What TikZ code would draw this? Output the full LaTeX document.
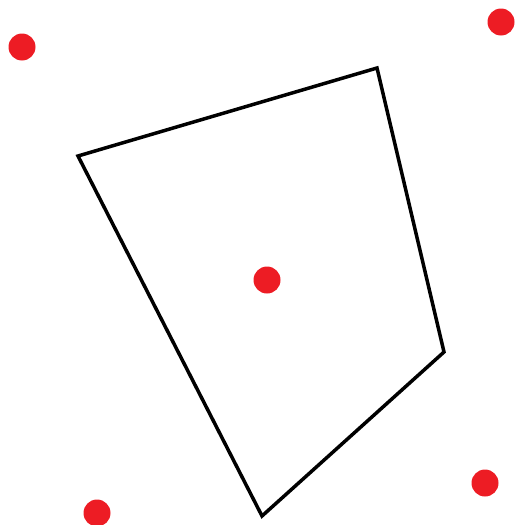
\documentclass[tikz,border=0pt]{standalone}
\definecolor{dotred}{RGB}{237,28,36}
\tikzset{
	site/.style = {circle, fill = dotred, inner sep = 0pt, minimum size = 27pt},
	cell/.style = {line width = 3.5pt, line join = miter, black}
}
\begin{document}
\begin{tikzpicture}[x = 1pt, y = -1pt]
	\useasboundingbox (0,0) rectangle (517,525);
	\node [site] (s1) at (22,47) {};
	\node [site] (s2) at (501,22) {};
	\node [site] (s0) at (267,280) {};
	\node [site] (s3) at (485,483) {};
	\node [site] (s4) at (97,513) {};
	\coordinate (v1) at (78,156);
	\coordinate (v2) at (377,68);
	\coordinate (v3) at (444,352);
	\coordinate (v4) at (262,516);
	\draw [cell] (v1) -- (v2) -- (v3) -- (v4) -- cycle;
\end{tikzpicture}
\end{document}
